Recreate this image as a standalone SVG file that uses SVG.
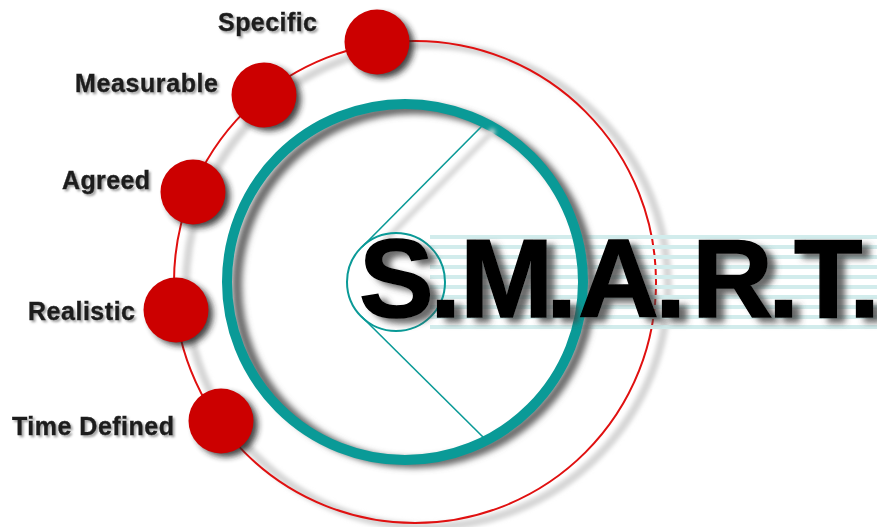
<svg xmlns="http://www.w3.org/2000/svg" width="877" height="527" viewBox="0 0 877 527">
<style>
.lbl{font-family:"Liberation Sans",Arial,sans-serif;font-weight:bold;font-size:25px;fill:#1c1c1c;stroke:#1c1c1c;stroke-width:0.4}
.dot{fill:#cc0000}
.dotsh{fill:#222;opacity:.85}
.title{font-family:"Liberation Sans",Arial,sans-serif;font-weight:bold;font-size:112px;fill:#000;stroke:#000;stroke-width:1.5}
.teal{stroke:#0a9a97;fill:none}
</style>
<defs>
<filter id="b3" x="-30%" y="-30%" width="160%" height="160%"><feGaussianBlur stdDeviation="3"/></filter>
<filter id="b2" x="-30%" y="-30%" width="160%" height="160%"><feGaussianBlur stdDeviation="2"/></filter>
<filter id="tsh" x="-5%" y="-20%" width="115%" height="150%">
<feGaussianBlur in="SourceAlpha" stdDeviation="3"/>
<feOffset dx="8" dy="5" result="o"/>
<feFlood flood-color="#444" flood-opacity="0.8"/>
<feComposite in2="o" operator="in" result="s"/>
<feMerge><feMergeNode in="s"/><feMergeNode in="SourceGraphic"/></feMerge>
</filter>
<filter id="lsh" x="-5%" y="-30%" width="115%" height="170%">
<feGaussianBlur in="SourceAlpha" stdDeviation="1.2"/>
<feOffset dx="1.5" dy="1.5" result="o"/>
<feFlood flood-color="#666" flood-opacity="0.6"/>
<feComposite in2="o" operator="in" result="s"/>
<feMerge><feMergeNode in="s"/><feMergeNode in="SourceGraphic"/></feMerge>
</filter>
</defs>
<rect width="877" height="527" fill="#fff"/>

<g id="outer-ring">
<circle cx="427" cy="286" r="241" fill="none" stroke="#d6d6d6" stroke-width="8" filter="url(#b2)"/>
<circle cx="415" cy="282" r="241" fill="none" stroke="#e01010" stroke-width="2"/>
</g>

<g id="stripes" fill="#d2ecec">
<rect x="430" y="235" width="447" height="4"/>
<rect x="430" y="245" width="447" height="4"/>
<rect x="430" y="255" width="447" height="4"/>
<rect x="430" y="265" width="447" height="4"/>
<rect x="430" y="275" width="447" height="4"/>
<rect x="430" y="285" width="447" height="4"/>
<rect x="430" y="295" width="447" height="4"/>
<rect x="430" y="305" width="447" height="4"/>
<rect x="430" y="315" width="447" height="4"/>
<rect x="430" y="325" width="447" height="4"/>
</g>

<g id="inner-ring">
<circle cx="414" cy="286" r="177" fill="none" stroke="#666" stroke-width="10" filter="url(#b3)"/>
<circle cx="405" cy="282" r="178" class="teal" stroke-width="10"/>
</g>

<g id="connectors">
<line x1="374" y1="252" x2="494" y2="130" stroke="#d8d8d8" stroke-width="6" filter="url(#b2)"/>
<line x1="362" y1="247" x2="483" y2="125" class="teal" stroke-width="1.6"/>
<line x1="361" y1="316" x2="485" y2="439" class="teal" stroke-width="1.6"/>
</g>

<g id="hub">
<circle cx="396" cy="282" r="49" fill="#fff" class="teal" stroke-width="2"/>
</g>

<g id="title">
<text class="title" filter="url(#tsh)" x="359 430 460 546 578 655 692 768 794 849" y="317">S.M.A.R.T.</text>
</g>

<g id="node-specific">
<circle cx="382" cy="46" r="32" class="dotsh" filter="url(#b3)"/>
<circle cx="377" cy="42" r="32.5" class="dot"/>
<text class="lbl" x="218" y="31" textLength="99" filter="url(#lsh)">Specific</text>
</g>
<g id="node-measurable">
<circle cx="269" cy="99" r="32" class="dotsh" filter="url(#b3)"/>
<circle cx="264" cy="95" r="32.5" class="dot"/>
<text class="lbl" x="75" y="92" textLength="143" filter="url(#lsh)">Measurable</text>
</g>
<g id="node-agreed">
<circle cx="198" cy="196" r="32" class="dotsh" filter="url(#b3)"/>
<circle cx="193" cy="192" r="32.5" class="dot"/>
<text class="lbl" x="62" y="189" textLength="88" filter="url(#lsh)">Agreed</text>
</g>
<g id="node-realistic">
<circle cx="181" cy="314" r="32" class="dotsh" filter="url(#b3)"/>
<circle cx="176" cy="310" r="32.5" class="dot"/>
<text class="lbl" x="28" y="320" textLength="107" filter="url(#lsh)">Realistic</text>
</g>
<g id="node-time-defined">
<circle cx="226" cy="425" r="32" class="dotsh" filter="url(#b3)"/>
<circle cx="221" cy="421" r="32.5" class="dot"/>
<text class="lbl" x="12" y="435" textLength="162" filter="url(#lsh)">Time Defined</text>
</g>
</svg>
